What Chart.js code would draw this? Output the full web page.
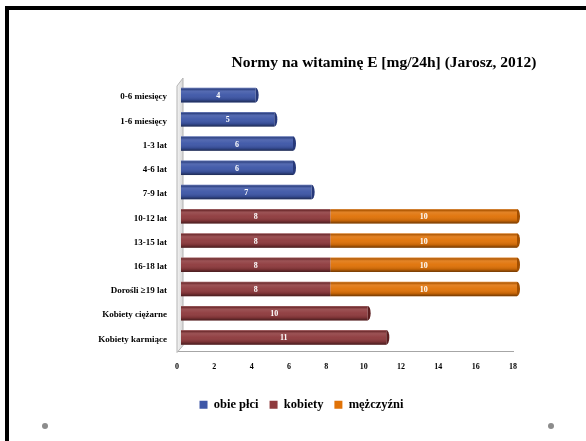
<!DOCTYPE html>
<html>
<head>
<meta charset="utf-8">
<script src="https://cdn.jsdelivr.net/npm/chart.js@4/dist/chart.umd.min.js"></script>
<style>
    html, body { margin: 0; padding: 0; background: #fff; }
    #slide { position: relative; width: 586px; height: 441px; overflow: hidden; }
    .edge-top { position: absolute; left: 5px; top: 6px; right: 0; height: 4px; background: #000; }
    .edge-left { position: absolute; left: 5px; top: 6px; bottom: 0; width: 4px; background: #000; }
    .dot { position: absolute; width: 6px; height: 6px; border-radius: 50%; background: #8c8c8c; top: 423px; }
    #chartBox { position: absolute; left: 0; top: 0; width: 586px; height: 441px; }
</style>
</head>
<body>
<div id="slide">
    <div class="edge-top"></div>
    <div class="edge-left"></div>
    <div class="dot" style="left:42px"></div>
    <div class="dot" style="left:548px"></div>
    <div id="chartBox"><canvas id="vitChart"></canvas></div>
</div>
<script>
const categories = ['0-6 miesięcy', '1-6 miesięcy', '1-3 lat', '4-6 lat', '7-9 lat', '10-12 lat',
    '13-15 lat', '16-18 lat', 'Dorośli ≥19 lat', 'Kobiety ciężarne', 'Kobiety karmiące'];
const obiePlci = [4, 5, 6, 6, 7, null, null, null, null, null, null];
const kobiety = [null, null, null, null, null, 8, 8, 8, 8, 10, 11];
const mezczyzni = [null, null, null, null, null, 10, 10, 10, 10, null, null];
const xMin = 0, xMax = 18, xStep = 2;
const chartTitle = 'Normy na witaminę E [mg/24h] (Jarosz, 2012)';

const serif = "'Liberation Serif', 'DejaVu Serif', serif";
Chart.defaults.font.family = serif;
Chart.defaults.color = '#000';

// 3D depth offset of the bars relative to the axes
const DEPTH_X = 4, DEPTH_Y = -2;

// side wall, title, cylinder shading and value labels
const cylinderPlugin = {
    id: 'cylinder',
    afterLayout(chart) {
        // legend sits under the middle of the slide, not the plot
        const lg = chart.legend;
        lg.left += 45; lg.right += 45;
        lg.top += 2; lg.bottom += 2;
    },
    beforeDatasetsDraw(chart) {
        const {ctx, chartArea: a} = chart;
        ctx.save();
        const g = ctx.createLinearGradient(a.left, 0, a.left + 6, 0);
        g.addColorStop(0, '#f4f4f4');
        g.addColorStop(1, '#d6d6d6');
        ctx.beginPath();
        ctx.moveTo(a.left, a.top + 1);
        ctx.lineTo(a.left + 6, a.top - 7);
        ctx.lineTo(a.left + 6, a.bottom - 6);
        ctx.lineTo(a.left, a.bottom + 1);
        ctx.closePath();
        ctx.fillStyle = g;
        ctx.fill();
        ctx.strokeStyle = '#b4b4b4';
        ctx.lineWidth = 1;
        ctx.stroke();
        ctx.restore();

        ctx.save();
        ctx.translate(DEPTH_X, DEPTH_Y);
    },
    afterDatasetsDraw(chart) {
        const {ctx} = chart;
        const capColors = ['#27397a', '#5c1f20', '#a24f00'];
        chart.data.datasets.forEach((ds, di) => {
            const meta = chart.getDatasetMeta(di);
            meta.data.forEach((bar, i) => {
                if (ds.data[i] == null) return;
                const {x, y, base, height} = bar.getProps(['x', 'y', 'base', 'height'], true);
                const left = Math.min(x, base), right = Math.max(x, base);
                const top = y - height / 2;
                const sh = ctx.createLinearGradient(0, top, 0, top + height);
                sh.addColorStop(0, 'rgba(255,255,255,0.3)');
                sh.addColorStop(0.1, 'rgba(0,0,0,0.2)');
                sh.addColorStop(0.25, 'rgba(255,255,255,0.12)');
                sh.addColorStop(0.5, 'rgba(255,255,255,0.04)');
                sh.addColorStop(0.8, 'rgba(0,0,0,0.12)');
                sh.addColorStop(1, 'rgba(0,0,0,0.5)');
                ctx.fillStyle = sh;
                ctx.fillRect(left, top, right - left, height);

                // round end cap on the outermost segment of each row
                const later = chart.data.datasets.slice(di + 1).some(d => d.data[i] != null);
                if (!later) {
                    ctx.beginPath();
                    ctx.ellipse(right, y, 3, height / 2, 0, -Math.PI / 2, Math.PI / 2);
                    ctx.closePath();
                    ctx.fillStyle = capColors[di];
                    ctx.fill();
                }

                ctx.font = 'bold 8px ' + serif;
                ctx.fillStyle = '#fff';
                ctx.textAlign = 'center';
                ctx.textBaseline = 'middle';
                ctx.fillText(String(ds.data[i]), (left + right) / 2, y + 1);
            });
        });
        ctx.restore();
    },
    afterDraw(chart) {
        const {ctx, chartArea: a} = chart;
        ctx.save();
        ctx.font = 'bold 15.5px ' + serif;
        ctx.fillStyle = '#000';
        ctx.textAlign = 'center';
        ctx.textBaseline = 'middle';
        ctx.fillText(chartTitle, a.left + 207, a.top - 22);
        ctx.restore();
    }
};

const ctx = document.getElementById('vitChart').getContext('2d');
new Chart(ctx, {
    type: 'bar',
    data: {
        labels: categories,
        datasets: [
            { label: 'obie płci', data: obiePlci, backgroundColor: '#3d56a7' },
            { label: 'kobiety', data: kobiety, backgroundColor: '#8e3a3d' },
            { label: 'mężczyźni', data: mezczyzni, backgroundColor: '#e07207' }
        ]
    },
    options: {
        indexAxis: 'y',
        responsive: true,
        maintainAspectRatio: false,
        animation: false,
        datasets: { bar: { barPercentage: 0.6, categoryPercentage: 1, clip: false } },
        layout: { padding: { left: 0, right: 73, top: 85, bottom: 22 } },
        scales: {
            x: {
                stacked: true,
                min: xMin,
                max: xMax,
                grid: { display: false, drawTicks: false },
                border: { display: true, color: '#a6a6a6', width: 1 },
                ticks: { stepSize: xStep, padding: 11, font: { size: 8, weight: 'bold' } },
                afterFit(scale) { scale.height = 34; }
            },
            y: {
                stacked: true,
                grid: { display: false, drawTicks: false },
                border: { display: false },
                ticks: { padding: 10, font: { size: 9, weight: 'bold' } },
                afterFit(scale) { scale.width = 177; }
            }
        },
        plugins: {
            tooltip: { enabled: false },
            legend: {
                position: 'bottom',
                labels: {
                    boxWidth: 8,
                    boxHeight: 8,
                    padding: 11,
                    font: { size: 12.5, weight: 'bold' }
                }
            }
        }
    },
    plugins: [cylinderPlugin]
});
</script>
</body>
</html>
